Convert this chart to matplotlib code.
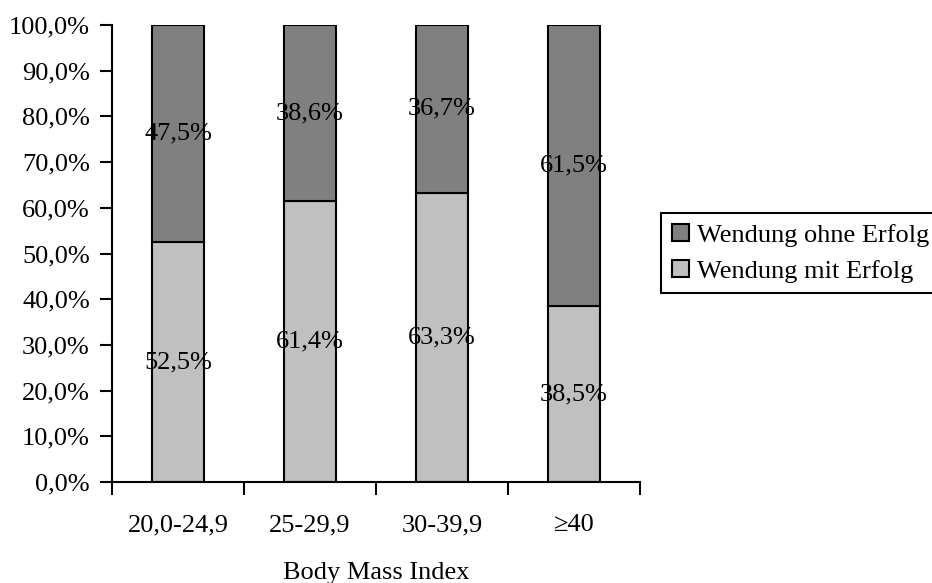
import matplotlib
matplotlib.use("Agg")
import matplotlib.pyplot as plt
import numpy as np

plt.rcParams['font.family'] = ['Liberation Serif', 'DejaVu Serif']
plt.rcParams['font.size'] = 19

categories = ['20,0-24,9', '25-29,9', '30-39,9', '≥40']
mit_erfolg = [52.5, 61.4, 63.3, 38.5]
ohne_erfolg = [47.5, 38.6, 36.7, 61.5]

dark = '#808080'
light = '#c0c0c0'

fig = plt.figure(figsize=(9.32, 5.83), dpi=100)
ax = fig.add_axes([0.1202, 0.1732, 0.5665, 0.7839])

x = np.arange(len(categories))
w = 0.395
b1 = ax.bar(x, mit_erfolg, w, color=light, edgecolor='black', linewidth=1.5,
            label='Wendung mit Erfolg')
b2 = ax.bar(x, ohne_erfolg, w, bottom=mit_erfolg, color=dark, edgecolor='black',
            linewidth=1.5, label='Wendung ohne Erfolg')

# Prozentwerte mittig in jedes Segment
for i in range(len(categories)):
    ax.text(x[i], mit_erfolg[i] / 2, f'{mit_erfolg[i]:.1f}%'.replace('.', ','),
            ha='center', va='center')
    ax.text(x[i], mit_erfolg[i] + ohne_erfolg[i] / 2,
            f'{ohne_erfolg[i]:.1f}%'.replace('.', ','), ha='center', va='center')

ax.set_xlim(-0.5, len(categories) - 0.5)
ax.set_ylim(0, 100)
ax.set_yticks(np.arange(0, 101, 10))
ax.set_yticklabels([f'{v:.1f}%'.replace('.', ',') for v in np.arange(0, 101, 10)])
ax.set_xticks(x)
ax.set_xticklabels(categories)
ax.set_xticks(np.arange(-0.5, len(categories)), minor=True)
ax.tick_params(axis='x', which='major', length=0, pad=23)
ax.tick_params(axis='x', which='minor', length=9, width=1.5, direction='out')
ax.tick_params(axis='y', length=9, width=1.5, direction='out', pad=7)
ax.set_xlabel('Body Mass Index', labelpad=19)

for s in ['top', 'right']:
    ax.spines[s].set_visible(False)
for s in ['left', 'bottom']:
    ax.spines[s].set_linewidth(1.5)

leg = ax.legend(handles=[b2, b1], loc='upper left',
                bbox_to_anchor=(661 / 932, 1 - 213 / 583),
                bbox_transform=fig.transFigure, borderaxespad=0,
                handlelength=0.65, handleheight=0.65, handletextpad=0.3,
                borderpad=0.4, labelspacing=0.5, fancybox=False,
                framealpha=1, edgecolor='black')
leg.get_frame().set_linewidth(1.5)

fig.savefig('out.png', dpi=100)
